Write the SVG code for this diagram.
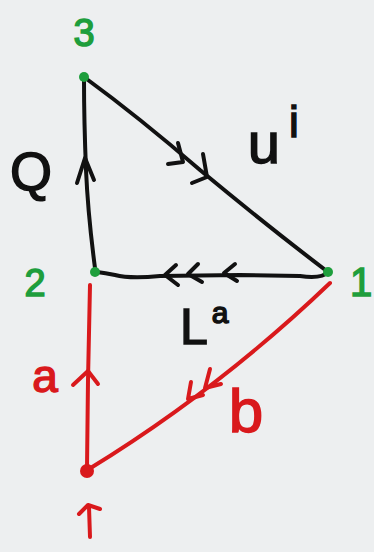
<svg xmlns="http://www.w3.org/2000/svg" width="374" height="552" viewBox="0 0 374 552">
<style>
.bk{fill:none;stroke:#111;stroke-width:4;stroke-linecap:round;stroke-linejoin:round}
.rd{fill:none;stroke:#d9191c;stroke-width:4;stroke-linecap:round;stroke-linejoin:round}
.gt{fill:#1e9e3c;stroke:#1e9e3c;stroke-width:1.5;font-family:"Liberation Sans",Arial,sans-serif}
.kt{fill:#111;stroke:#111;stroke-width:1.5;font-family:"Liberation Sans",Arial,sans-serif}
.rt{fill:#d9191c;stroke:#d9191c;stroke-width:1.5;font-family:"Liberation Sans",Arial,sans-serif}
</style>
<rect width="374" height="552" fill="#edeff0"/>
<g id="edges">
  <g id="e31">
    <path class="bk" d="M84,77 Q140,118 200,170 Q270,228 328,272"/>
    <path class="bk" d="M178,143 L183,162 L168,164"/>
    <path class="bk" d="M203,154 L207,177 L192,183"/>
  </g>
  <g id="e23">
    <path class="bk" d="M95,268 Q88,215 86,170 Q84,120 84,80"/>
    <path class="bk" d="M77,183 L85,158 L94,180"/>
  </g>
  <g id="e12">
    <path class="bk" d="M328,272 Q322,279 300,276 L240,275 L160,276 Q130,279 115,275 Q105,273 97,272"/>
    <path class="bk" d="M176,265 L165,275 L178,285"/>
    <path class="bk" d="M198,264 L188,274 L202,282"/>
    <path class="bk" d="M235,264 L224,273 L237,281"/>
  </g>
  <g id="eA">
    <path class="rd" d="M90,285 L88,380 L87,468"/>
    <path class="rd" d="M73,385 L88,371 L98,384"/>
  </g>
  <g id="eB">
    <path class="rd" d="M330,283 Q218,390 89,469"/>
    <path class="rd" d="M191,382 L188,399 L203,395"/>
    <path class="rd" d="M210,369 L205,388 L221,384"/>
  </g>
  <g id="eIn">
    <path class="rd" d="M90,537 L89,507"/>
    <path class="rd" d="M79,514 L88,505 L100,509"/>
  </g>
</g>
<g id="n3"><circle cx="84" cy="77" r="5" fill="#1e9e3c"/><text class="gt" x="84" y="46" font-size="38" text-anchor="middle">3</text></g>
<g id="n2"><circle cx="95" cy="272" r="5" fill="#1e9e3c"/><text class="gt" x="35" y="296" font-size="38" text-anchor="middle">2</text></g>
<g id="n1"><circle cx="328" cy="272" r="5" fill="#1e9e3c"/><text class="gt" x="361" y="296" font-size="40" text-anchor="middle">1</text></g>
<g id="n0"><circle cx="87" cy="471" r="7" fill="#d9191c"/></g>
<g id="labels">
  <text class="kt" x="31" y="190" font-size="54" text-anchor="middle">Q</text>
  <text class="kt" x="264" y="163" font-size="58" text-anchor="middle">u</text>
  <text class="kt" x="294" y="137" font-size="44" text-anchor="middle">i</text>
  <text class="kt" x="194" y="344" font-size="50" text-anchor="middle">L</text>
  <text class="kt" x="220" y="323" font-size="30" text-anchor="middle">a</text>
  <text class="rt" x="45" y="392" font-size="46" text-anchor="middle">a</text>
  <text class="rt" x="246" y="432" font-size="62" text-anchor="middle">b</text>
</g>
</svg>
